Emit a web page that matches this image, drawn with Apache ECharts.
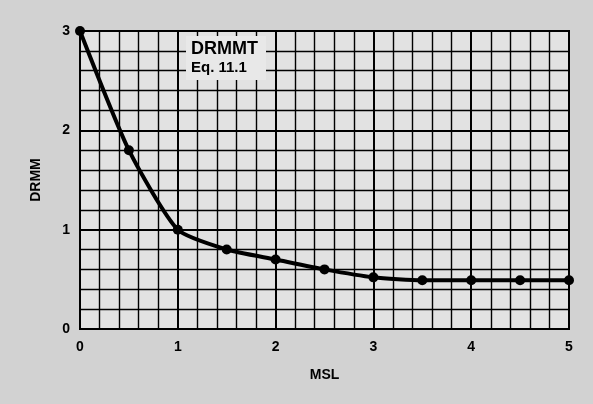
<!DOCTYPE html>
<html><head><meta charset="utf-8">
<script src="https://cdn.jsdelivr.net/npm/echarts@6/dist/echarts.min.js"></script>
<style>html,body{margin:0;padding:0;background:#d2d2d2}#c{width:593px;height:404px}</style>
</head><body><div id="c"></div>
<script>
var msl = [0, 0.5, 1, 1.5, 2, 2.5, 3, 3.5, 4, 4.5, 5];
var drmm = [3.0, 1.8, 1.0, 0.8, 0.7, 0.6, 0.52, 0.49, 0.49, 0.49, 0.49];
var xTicks = [0, 1, 2, 3, 4, 5];
var yTicks = [0, 1, 2, 3];

var chart = echarts.init(document.getElementById('c'), null, {renderer: 'canvas'});
var font = 'Liberation Sans, Arial, sans-serif';
chart.setOption({
  backgroundColor: '#d2d2d2',
  animation: false,
  grid: {left: 80, right: 24, top: 31, bottom: 75, show: true, backgroundColor: '#e2e2e2', borderColor: '#000', borderWidth: 2},
  xAxis: {
    type: 'value', min: xTicks[0], max: xTicks[xTicks.length-1], interval: 1,
    name: 'MSL', nameLocation: 'middle', nameGap: 39,
    nameTextStyle: {color: '#000', fontWeight: 'bold', fontSize: 14, fontFamily: font},
    axisLine: {show: true, lineStyle: {color: '#000', width: 2}},
    axisTick: {show: false},
    axisLabel: {color: '#000', fontWeight: 'bold', fontSize: 14, fontFamily: font, margin: 11},
    splitLine: {show: true, lineStyle: {color: '#000', width: 2}},
    minorTick: {show: false, splitNumber: 5},
    minorSplitLine: {show: true, lineStyle: {color: '#000', width: 1.4}}
  },
  yAxis: {
    type: 'value', min: yTicks[0], max: yTicks[yTicks.length-1], interval: 1,
    name: 'DRMM', nameLocation: 'middle', nameGap: 37, nameRotate: 90,
    nameTextStyle: {color: '#000', fontWeight: 'bold', fontSize: 14, fontFamily: font},
    axisLine: {show: true, lineStyle: {color: '#000', width: 2}},
    axisTick: {show: false},
    axisLabel: {color: '#000', fontWeight: 'bold', fontSize: 14, fontFamily: font, margin: 10},
    splitLine: {show: true, lineStyle: {color: '#000', width: 2}},
    minorTick: {show: false, splitNumber: 5},
    minorSplitLine: {show: true, lineStyle: {color: '#000', width: 1.4}}
  },
  graphic: [
    {type: 'rect', shape: {x: 186, y: 36, width: 80, height: 44}, style: {fill: '#e8e8e8'}, z: 10},
    {type: 'text', left: 191, top: 40, style: {text: 'DRMMT', fill: '#000', font: 'bold 18px ' + font}, z: 11},
    {type: 'text', left: 191, top: 60, style: {text: 'Eq. 11.1', fill: '#000', font: 'bold 15px ' + font}, z: 11}
  ],
  series: [{
    type: 'line',
    data: msl.map(function(x, i){ return [x, drmm[i]]; }),
    smooth: 0.2,
    symbol: 'circle', symbolSize: 10,
    itemStyle: {color: '#000'},
    lineStyle: {color: '#000', width: 4},
    z: 5
  }]
});
</script></body></html>
